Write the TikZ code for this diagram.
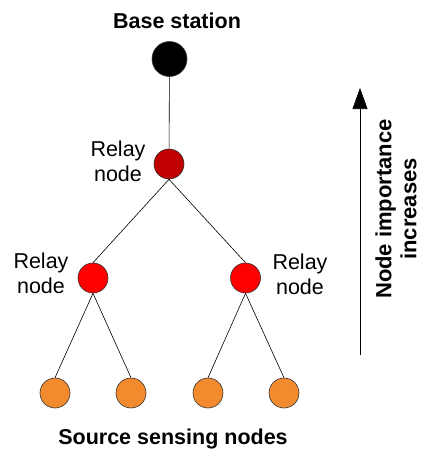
\documentclass[tikz,border=0pt]{standalone}
\usepackage{fontspec}
\setmainfont{Liberation Sans}
\usepackage{tikz}
\usetikzlibrary{arrows.meta}

\definecolor{relaytop}{RGB}{192,0,0}
\definecolor{relaymid}{RGB}{255,0,0}
\definecolor{sensor}{RGB}{242,138,46}

\begin{document}
\begin{tikzpicture}[x=1pt, y=-1pt,
    every node/.style={font=\fontsize{21.5}{24.7}\selectfont},
    dot/.style={circle, draw=black!80, line width=0.6pt, inner sep=0pt, minimum size=30pt},
    lbl/.style={align=center, anchor=center},
    ttl/.style={anchor=base, font=\fontsize{21.5}{24.7}\selectfont\bfseries},
    link/.style={line width=0.6pt}]
\useasboundingbox (0,0) rectangle (422,453);
\node[ttl] (title) at (177,28.5) {Base station};
\node[dot, fill=black, minimum size=35pt] (bs) at (169.5,59) {};
\node[dot, fill=relaytop] (r0) at (169,164) {};
\node[dot, fill=relaymid] (r1) at (93,278) {};
\node[dot, fill=relaymid] (r2) at (245.5,278) {};
\node[dot, fill=sensor] (s1) at (55,393) {};
\node[dot, fill=sensor] (s2) at (131,393) {};
\node[dot, fill=sensor] (s3) at (208,393) {};
\node[dot, fill=sensor] (s4) at (284,393) {};
\node[lbl] (l0) at (118,161) {Relay\\node};
\node[lbl] (l1) at (41,273) {Relay\\node};
\node[lbl] (l2) at (300,274) {Relay\\node};
\node[ttl] (foot) at (173,444) {Source sensing nodes};
\node[lbl, rotate=90, font=\fontsize{22}{25}\selectfont\bfseries] (imp) at (396,209) {Node importance\\increases};
\coordinate (abot) at (360,355);
\coordinate (atop) at (360,88);

        \draw[link] (bs) -- (r0);
        \draw[link] (r0.south) -- (r1.north);
        \draw[link] (r0.south) -- (r2.north);
        \draw[link] (r1.south) -- (s1.north);
        \draw[link] (r1.south) -- (s2.north);
        \draw[link] (r2.south) -- (s3.north);
        \draw[link] (r2.south) -- (s4.north);
        \draw[link, -{Triangle[width=15pt,length=21pt]}] (abot) -- (atop);
        \end{tikzpicture}
\end{document}
